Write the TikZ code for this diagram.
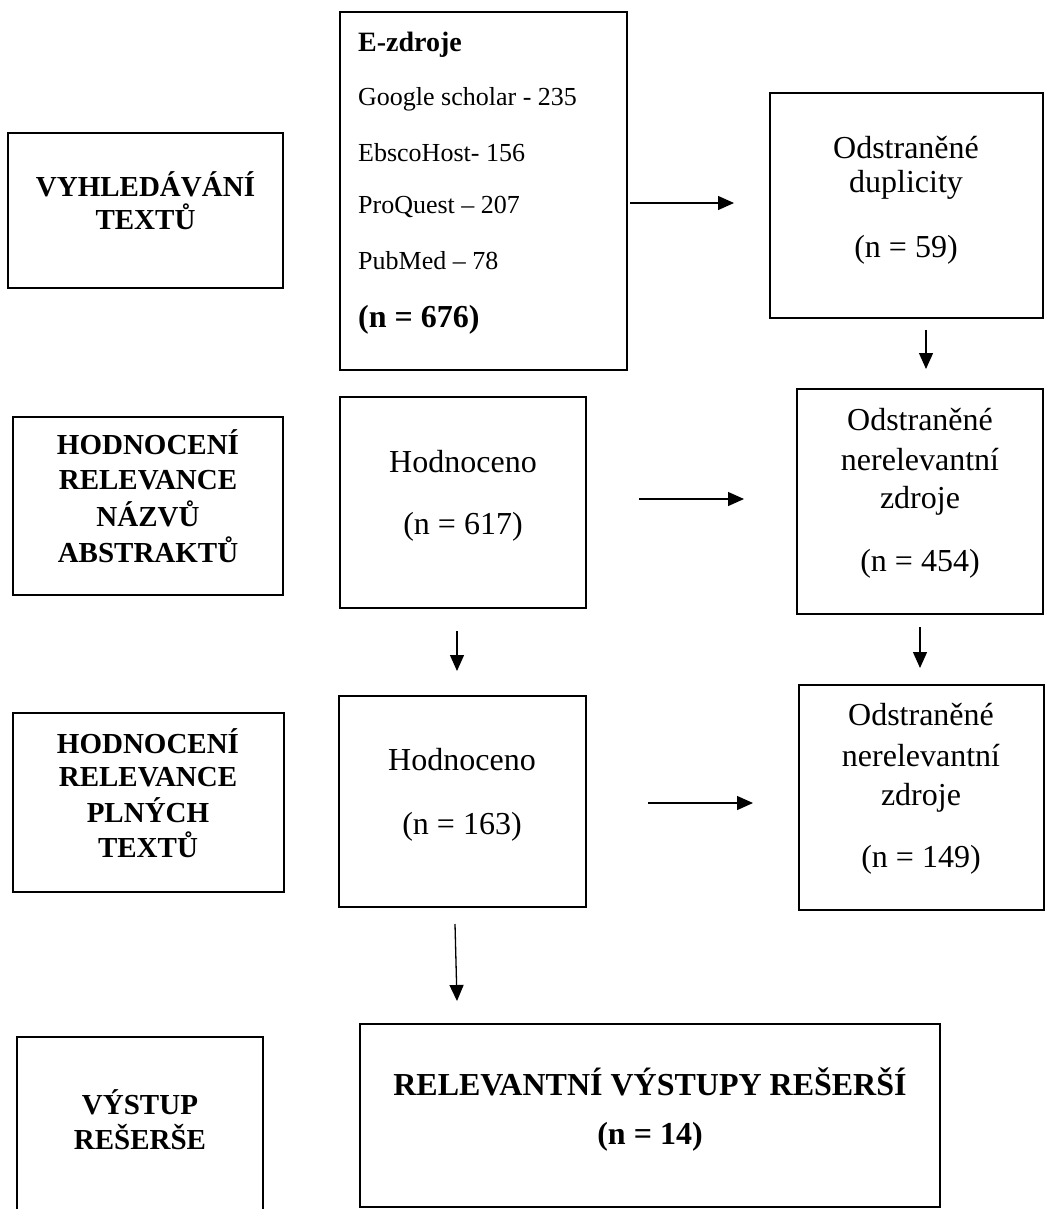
\documentclass[tikz,border=0pt]{standalone}
\usepackage{fontspec}
\setmainfont{Liberation Serif}
\usetikzlibrary{arrows.meta}
\newcommand\mybox[5]{\node[box, minimum width={#4-#2}, minimum height={#5-#3}] (#1) at ({(#2+#4)/2},{(#3+#5)/2}) {};}
\begin{document}
\begin{tikzpicture}[x=1pt,y=-1pt,
  box/.style={draw, line width=1.8pt, inner sep=0pt, outer sep=0pt},
  arr/.style={line width=1.3pt, -{Triangle[length=16pt,width=14pt]}},
  lab/.style={font=\fontsize{29}{34}\selectfont\bfseries, inner sep=0pt},
  txt/.style={font=\fontsize{32}{38}\selectfont, inner sep=0pt},
  src/.style={font=\fontsize{26}{31}\selectfont, inner sep=0pt, anchor=west},
  srchead/.style={font=\fontsize{28}{33}\selectfont\bfseries, inner sep=0pt, anchor=west},
  srcsum/.style={font=\fontsize{32}{38}\selectfont\bfseries, inner sep=0pt, anchor=west},
  big/.style={font=\fontsize{32}{38}\selectfont\bfseries, inner sep=0pt}
]
\useasboundingbox (0,0) rectangle (1046,1209);
\clip (0,0) rectangle (1046,1209);
\fill[white] (0,0) rectangle (1046,1209);

% row 1
\mybox{A}{8}{133}{283}{288}
\node[lab] (a1) at (145.5,184) {VYHLEDÁVÁNÍ};
\node[lab] (a2) at (145.5,217) {TEXTŮ};

\mybox{B}{340}{12}{627}{370}
\node[srchead] (b0) at (358,45) {E-zdroje};
\node[src] (b1) at (358,99) {Google scholar - 235};
\node[src] (b2) at (358,153) {EbscoHost- 156};
\node[src] (b3) at (358,207) {ProQuest – 207};
\node[src] (b4) at (358,261) {PubMed – 78};
\node[srcsum] (b5) at (358,320) {(n = 676)};

\mybox{C}{770}{93}{1043}{318}
\node[txt] (c1) at (906,148) {Odstraněné};
\node[txt] (c2) at (906,185) {duplicity};
\node[txt] (c3) at (906,250) {(n = 59)};

% row 2
\mybox{D}{13}{417}{283}{595}
\node[lab] (d1) at (148,442) {HODNOCENÍ};
\node[lab] (d2) at (148,480) {RELEVANCE};
\node[lab] (d3) at (148,514) {NÁZVŮ};
\node[lab] (d4) at (148,550) {ABSTRAKTŮ};

\mybox{E}{340}{397}{586}{608}
\node[txt] (e1) at (463,462) {Hodnoceno};
\node[txt] (e2) at (463,527) {(n = 617)};

\mybox{F}{797}{389}{1043}{614}
\node[txt] (f1) at (920,420) {Odstraněné};
\node[txt] (f2) at (920,460) {nerelevantní};
\node[txt] (f3) at (920,501) {zdroje};
\node[txt] (f4) at (920,564) {(n = 454)};

% row 3
\mybox{G}{13}{713}{284}{892}
\node[lab] (g1) at (148,741) {HODNOCENÍ};
\node[lab] (g2) at (148,777) {RELEVANCE};
\node[lab] (g3) at (148,810) {PLNÝCH};
\node[lab] (g4) at (148,845) {TEXTŮ};

\mybox{H}{339}{696}{586}{907}
\node[txt] (h1) at (462,760) {Hodnoceno};
\node[txt] (h2) at (462,827) {(n = 163)};

\mybox{I}{799}{685}{1044}{910}
\node[txt] (i1) at (921,715) {Odstraněné};
\node[txt] (i2) at (921,756) {nerelevantní};
\node[txt] (i3) at (921,798) {zdroje};
\node[txt] (i4) at (921,860) {(n = 149)};

% row 4
\mybox{J}{17}{1037}{263}{1240}
\node[lab] (j1) at (140,1102) {VÝSTUP};
\node[lab] (j2) at (140,1137) {REŠERŠE};

\mybox{K}{360}{1024}{940}{1207}
\node[big] (k1) at (650,1082) {RELEVANTNÍ VÝSTUPY REŠERŠÍ};
\node[big] (k2) at (650,1137) {(n = 14)};

% connector end points
\coordinate (bc0) at (630,203);  \coordinate (bc1) at (734,203);
\coordinate (cf0) at (926,330);  \coordinate (cf1) at (926,369);
\coordinate (ef0) at (639,499);  \coordinate (ef1) at (744,499);
\coordinate (eh0) at (457,631);  \coordinate (eh1) at (457,671);
\coordinate (fi0) at (920,627);  \coordinate (fi1) at (920,668);
\coordinate (hi0) at (648,803);  \coordinate (hi1) at (753,803);
\coordinate (hk0) at (455,924);  \coordinate (hk1) at (457,1001);

\draw[arr] (bc0) -- (bc1);
\draw[arr] (cf0) -- (cf1);
\draw[arr] (ef0) -- (ef1);
\draw[arr] (eh0) -- (eh1);
\draw[arr] (fi0) -- (fi1);
\draw[arr] (hi0) -- (hi1);
\draw[arr] (hk0) -- (hk1);
\end{tikzpicture}
\end{document}
